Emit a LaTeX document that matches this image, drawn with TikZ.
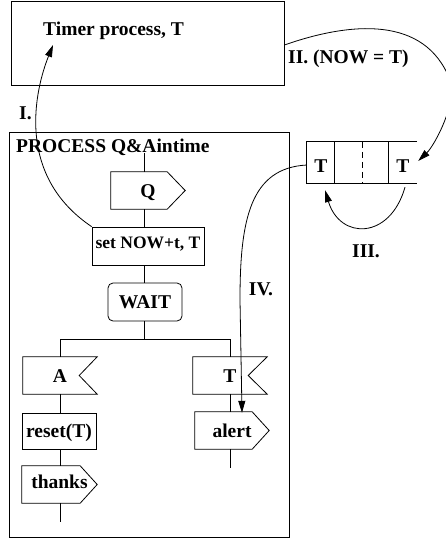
\documentclass[tikz,border=0pt]{standalone}
\usepackage{fontspec}
\setmainfont{Liberation Serif}
\usetikzlibrary{arrows.meta,calc}
\begin{document}
\begin{tikzpicture}[x=1pt,y=-1pt,
  every node/.style={font=\fontsize{19.5}{20}\selectfont\bfseries, inner sep=1pt},
  ln/.style={line width=0.8pt},
  txt/.style={text height=13pt, text depth=0pt},
  blk/.style={txt, minimum width=74pt, minimum height=37pt},
  arr/.style={ln, -{Triangle[length=12pt,width=7pt]}}
]
\useasboundingbox (0,0) rectangle (446,539);
% timer
\node[draw, ln, minimum width=273pt, minimum height=84pt] (timer) at (147.5,43) {};
\node[anchor=base west] (timertxt) at (42,35) {Timer process, T};
% process frame
\node[draw, ln, minimum width=280pt, minimum height=405pt] (proc) at (149,334.5) {};
\node[anchor=base west] (proctxt) at (15,152) {PROCESS Q\&Aintime};
% Q output
\node[blk] (q) at (148,190.5) {Q};
\draw[ln] (q.north west) -- ([xshift=-18pt]q.north east) -- (q.east) -- ([xshift=-18pt]q.south east) -- (q.south west) -- cycle;
% set
\node[draw, ln, minimum width=112pt, minimum height=38pt, text height=12pt, text depth=8pt,
      font=\fontsize{17.5}{18}\selectfont\bfseries] (set) at (148,246) {set NOW+t, T};
% wait
\node[draw, ln, blk, rounded corners=5pt, minimum height=38pt] (wait) at (145,302) {WAIT};
% A input
\node[blk] (a) at (60,375.5) {A};
\draw[ln] (a.north west) -- (a.north east) -- ([xshift=-18pt]a.east) -- (a.south east) -- (a.south west) -- cycle;
% T input
\node[blk] (tin) at (230,375.5) {T};
\draw[ln] (tin.north west) -- (tin.north east) -- ([xshift=-19pt]tin.east) -- (tin.south east) -- (tin.south west) -- cycle;
% reset
\node[draw, ln, blk, minimum height=36pt] (reset) at (59,431) {reset(T)};
% thanks output
\node[blk, minimum width=75pt, text depth=6pt] (thanks) at (59.5,484.5) {thanks};
\draw[ln] (thanks.north west) -- ([xshift=-17pt]thanks.north east) -- (thanks.east) -- ([xshift=-17pt]thanks.south east) -- (thanks.south west) -- cycle;
% alert output
\node[blk] (alert) at (232,430.5) {alert};
\draw[ln] (alert.north west) -- ([xshift=-17pt]alert.north east) -- (alert.east) -- ([xshift=-17pt]alert.south east) -- (alert.south west) -- cycle;
% flow lines
\coordinate (top) at (144,153);
\coordinate (br) at (144,339);
\coordinate (aend) at (60,522);
\coordinate (tend) at (230,468);
\draw[ln] (top) -- (top |- q.north);
\draw[ln] (q.south -| top) -- (set.north -| top);
\draw[ln] (set.south -| top) -- (wait.north -| top);
\draw[ln] (wait.south -| br) -- (br);
\draw[ln] (a.north) -- (a.north |- br) -- (tin.north |- br) -- (tin.north);
\draw[ln] (a.south) -- (a.south |- reset.north);
\draw[ln] (reset.south -| a.south) -- (thanks.north -| a.south);
\draw[ln] (thanks.south -| a.south) -- (aend);
\draw[ln] (tin.south) -- (tin.south |- alert.north);
\draw[ln] (alert.south -| tend) -- (tend);
% queue
\node[minimum width=110pt, minimum height=41pt] (queue) at (362,162.5) {};
\draw[ln] (queue.north east) -- (queue.north west) -- (queue.south west) -- (queue.south east);
\draw[ln] ([xshift=28pt]queue.north west) -- ([xshift=28pt]queue.south west);
\draw[ln] ([xshift=82pt]queue.north west) -- ([xshift=82pt]queue.south west);
\draw[ln, dash pattern=on 6pt off 4pt] ([xshift=56pt]queue.north west) -- ([xshift=56pt]queue.south west);
\node[txt] (qa) at (321,165.5) {T};
\node[txt] (qd) at (403,165.5) {T};
% arrows
\coordinate (ti) at (53,45);
\draw[arr] (set.north west) .. controls (15,175) and (35,90) .. (ti);
\node[anchor=base west] (l1) at (18,119) {I.};
\draw[arr] ([yshift=-2pt]timer.east) .. controls (350,22) and (425,15) .. (450,80)
  .. controls (458,101) and (435,145) .. ([xshift=1pt,yshift=1.5pt]queue.east);
\node[anchor=base west] (l2) at (287,63) {II. (NOW = T)};
\draw[arr] ([xshift=43pt,yshift=-4pt]queue.south) .. controls (390,240) and (340,240) .. ([xshift=-37pt,yshift=-7pt]queue.south);
\node[anchor=base] (l3) at (366,257) {III.};
\draw[arr] ([yshift=-2.5pt]queue.west) .. controls (250,168) and (240,220) .. (240,300) -- ([xshift=10pt,yshift=-1pt]alert.north);
\node[anchor=base] (l4) at (261,295) {IV.};
\end{tikzpicture}
\end{document}
